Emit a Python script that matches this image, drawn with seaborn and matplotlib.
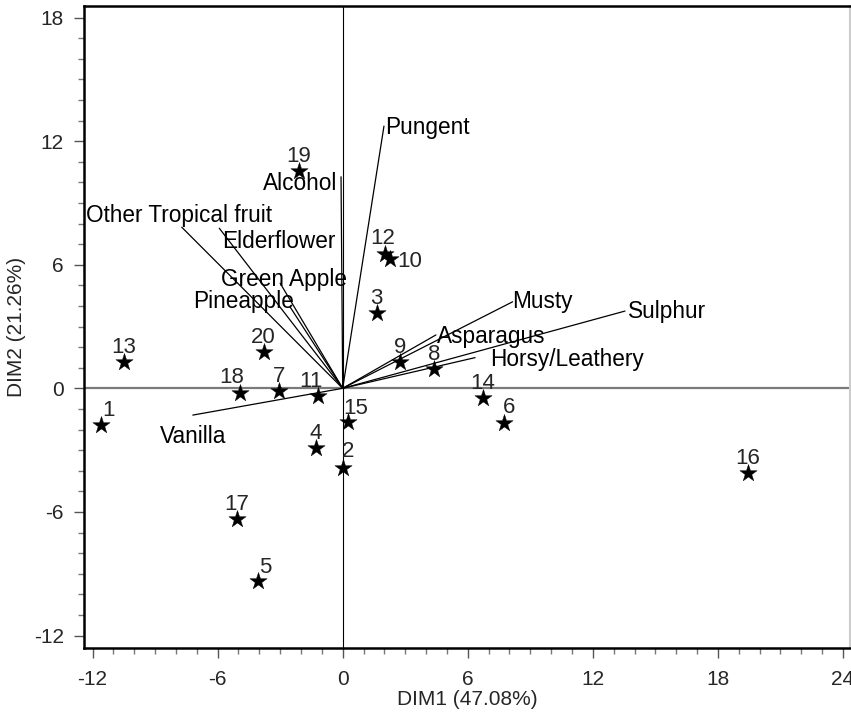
import numpy as np
import pandas as pd
import matplotlib
matplotlib.use("Agg")
import matplotlib.pyplot as plt
from matplotlib.ticker import MultipleLocator
import seaborn as sns

# sample scores (biplot points)
samples = ['1', '2', '3', '4', '5', '6', '7', '8', '9', '10',
           '11', '12', '13', '14', '15', '16', '17', '18', '19', '20']
dim1 = [-11.59, 0.00, 1.63, -1.29, -4.05, 7.72, -3.06, 4.38, 2.75, 2.27,
        -1.20, 2.03, -10.50, 6.73, 0.27, 19.45, -5.07, -4.91, -2.10, -3.79]
dim2 = [-1.80, -3.88, 3.64, -2.88, -9.35, -1.68, -0.13, 0.94, 1.26, 6.28,
        -0.36, 6.52, 1.29, -0.46, -1.65, -4.10, -6.36, -0.24, 10.55, 1.78]

# attribute loadings (vectors from the origin)
attributes = ['Pungent', 'Alcohol', 'Other Tropical fruit', 'Elderflower',
              'Green Apple', 'Pineapple', 'Musty', 'Sulphur', 'Asparagus',
              'Horsy/Leathery', 'Vanilla']
vec1 = [1.98, -0.08, -7.72, -5.92, -3.00, -2.53, 8.15, 13.54, 4.47, 6.35, -7.19]
vec2 = [12.73, 10.27, 7.82, 7.77, 5.10, 3.96, 4.20, 3.75, 2.59, 1.49, -1.30]

x_label = 'DIM1 (47.08%)'
y_label = 'DIM2 (21.26%)'

scores = pd.DataFrame({'sample': samples, 'DIM1': dim1, 'DIM2': dim2})
loadings = pd.DataFrame({'attribute': attributes, 'DIM1': vec1, 'DIM2': vec2})

sns.set_style('ticks')
plt.rcParams['font.family'] = ['Liberation Sans', 'DejaVu Sans']
plt.rcParams['axes.unicode_minus'] = False

fig = plt.figure(figsize=(8.51, 7.21), dpi=100)
ax = fig.add_axes([0.0987, 0.1017, 0.900, 0.890])

# reference lines through the origin
ax.axhline(0, color='#7a7a7a', lw=1.6, zorder=1)
ax.axvline(0, color='black', lw=0.8, zorder=1)

# loading vectors
for _, r in loadings.iterrows():
    ax.plot([0, r['DIM1']], [0, r['DIM2']], color='black', lw=0.9, zorder=2)

# label placement for vectors: (ha, va, dx, dy) in points
vec_label_style = {
    'Pungent': ('left', 'center', 1, -1),
    'Alcohol': ('right', 'center', -3, -5),
    'Other Tropical fruit': ('center', 'bottom', -2, 0),
    'Elderflower': ('left', 'top', 2, -1),
    'Green Apple': ('center', 'center', 3, 3),
    'Pineapple': ('right', 'center', 3, 4),
    'Musty': ('left', 'center', 0, 0),
    'Sulphur': ('left', 'center', 2, 0),
    'Asparagus': ('left', 'center', 1, -1),
    'Horsy/Leathery': ('left', 'center', 11, -1),
    'Vanilla': ('center', 'top', 0, -7),
}
for _, r in loadings.iterrows():
    ha, va, dx, dy = vec_label_style[r['attribute']]
    ax.annotate(r['attribute'], (r['DIM1'], r['DIM2']), xytext=(dx, dy),
                textcoords='offset points', ha=ha, va=va, fontsize=16.3,
                color='black', zorder=4)

# sample points
sns.scatterplot(data=scores, x='DIM1', y='DIM2', marker='*', s=170,
                color='black', edgecolor='black', linewidth=0.3, ax=ax, zorder=3)

label_offsets = {'10': (14, -2), '18': (-6, 11), '11': (-5, 10), '1': (5, 11),
                 '2': (4, 12), '15': (5, 10), '5': (5, 10), '6': (4, 11),
                 '12': (-2, 11)}
for _, r in scores.iterrows():
    dx, dy = label_offsets.get(r['sample'], (0, 10.5))
    ax.annotate(r['sample'], (r['DIM1'], r['DIM2']), xytext=(dx, dy),
                textcoords='offset points', ha='center', va='center',
                fontsize=16, zorder=4)

ax.set_xlim(-12.41, 24.33)
ax.set_ylim(-12.59, 18.56)
ax.xaxis.set_major_locator(MultipleLocator(6))
ax.xaxis.set_minor_locator(MultipleLocator(1))
ax.yaxis.set_major_locator(MultipleLocator(6))
ax.yaxis.set_minor_locator(MultipleLocator(1))
ax.tick_params(which='major', length=7, width=1.0, color='#555555',
               labelsize=15, pad=7.5)
ax.tick_params(axis='x', which='major', pad=9)
ax.tick_params(which='minor', length=4, width=1.0, color='#777777')

for side in ['left', 'bottom', 'top']:
    ax.spines[side].set_color('black')
    ax.spines[side].set_linewidth(1.8)
ax.spines['right'].set_color('#cccccc')
ax.spines['right'].set_linewidth(1.5)

ax.set_xlabel(x_label, fontsize=15, labelpad=1)
ax.set_ylabel(y_label, fontsize=15, labelpad=6)

fig.savefig('out.png', dpi=100)
